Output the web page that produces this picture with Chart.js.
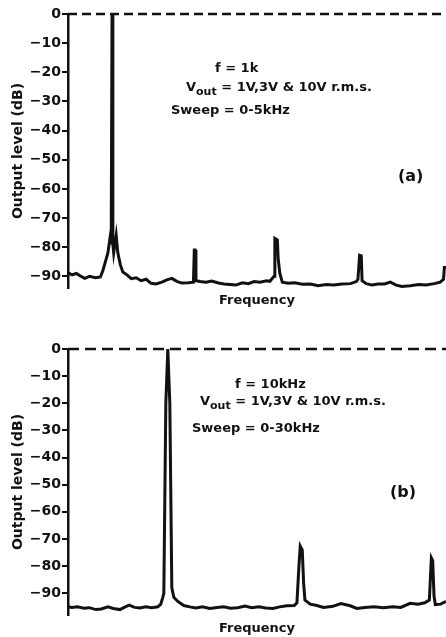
<!DOCTYPE html>
<html>
<head>
<meta charset="utf-8">
<script src="https://cdn.jsdelivr.net/npm/chart.js@4.4.0/dist/chart.umd.min.js"></script>
<style>
  html, body { margin: 0; padding: 0; background: #fff; }
  #wrap { position: relative; width: 446px; height: 637px; }
  canvas { position: absolute; left: 0; }
  #chartA { top: 0; }
  #chartB { top: 315px; }
</style>
</head>
<body>
<div id="wrap">
  <canvas id="chartA" width="446" height="315"></canvas>
  <canvas id="chartB" width="446" height="322"></canvas>
</div>
<script>
// (a) f = 1 kHz, sweep 0-5 kHz  (frequency in kHz, level in dB)
const freqA = [0.47, 0.52, 0.57, 0.61, 0.67, 0.73, 0.80, 0.86, 0.89, 0.93, 0.95, 0.98, 0.99, 1.00, 1.01, 1.02,
  1.04, 1.05, 1.07, 1.10, 1.13, 1.18, 1.23, 1.29, 1.35, 1.41, 1.47, 1.53, 1.60, 1.66, 1.72, 1.78, 1.84,
  1.92, 1.98, 1.99, 2.00, 2.01, 2.06, 2.13, 2.20, 2.28, 2.35, 2.42, 2.49, 2.57, 2.64, 2.71, 2.78, 2.86,
  2.90, 2.95, 2.96, 2.99, 3.00, 3.02, 3.05, 3.12, 3.20, 3.29, 3.39, 3.48, 3.58, 3.67, 3.77, 3.87, 3.94,
  3.96, 3.98, 4.00, 4.01, 4.06, 4.13, 4.20, 4.28, 4.35, 4.42, 4.49, 4.59, 4.69, 4.78, 4.88, 4.95, 4.99,
  5.00, 5.02];
const levelA = [-88.8, -89.5, -89, -89.7, -90.7, -90, -90.5, -90.2, -88, -84, -82, -76, -79, 0, -79, -82,
  -78, -76, -82, -86, -88.5, -89.5, -90.8, -90.5, -91.5, -91, -92.4, -92.6, -92, -91.2, -90.7, -91.7, -92.3,
  -92.2, -92, -81, -81, -91.5, -91.8, -92, -91.6, -92.3, -92.6, -92.8, -93, -92.2, -92.5, -91.8, -92, -91.5,
  -91.7, -90, -77, -77.5, -84, -89, -92, -92.4, -92.2, -92.7, -92.6, -93.2, -92.8, -93, -92.6, -92.5, -91.8,
  -91, -82.8, -83, -91.5, -92.5, -93, -92.6, -92.6, -92, -93, -93.5, -93.2, -92.8, -93, -92.5, -92, -91,
  -87, -87];
const rangeA = [0.47, 5.02];

// (b) f = 10 kHz, sweep 0-30 kHz
const freqB = [2.5, 2.8, 3.2, 3.7, 4.1, 4.6, 5.0, 5.5, 5.9, 6.4, 6.8, 7.1, 7.5, 7.9, 8.35, 8.8, 9.25, 9.47,
  9.62, 9.7, 9.85, 10.0, 10.15, 10.3, 10.45, 10.75, 11.2, 11.65, 12.1, 12.6, 13.15, 13.7, 14.2, 14.7, 15.25,
  15.8, 16.3, 16.85, 17.35, 17.9, 18.4, 18.95, 19.5, 19.7, 19.85, 19.95, 20.1, 20.2, 20.3, 20.7, 21.2, 21.7,
  22.4, 23.0, 23.7, 24.2, 24.8, 25.5, 26.2, 26.9, 27.5, 28.2, 28.8, 29.3, 29.65, 29.8, 29.9, 30.0, 30.1,
  30.5, 30.9];
const levelB = [-95, -95.2, -95, -95.5, -95.3, -96, -95.8, -95, -95.6, -96, -95, -94.4, -95.2, -95.4, -95,
  -95.3, -95, -94, -91.5, -90, -20, 0, -20, -88, -91.5, -93, -94.5, -95, -95.4, -95, -95.6, -95.2, -95,
  -95.5, -95.3, -94.7, -95.3, -95, -95.4, -95.6, -95, -94.6, -94.5, -93.5, -80, -72.6, -74, -86, -92.5,
  -94, -94.5, -95.2, -94.8, -93.8, -94.6, -95.6, -95.2, -95, -95.3, -95, -95.2, -93.7, -94, -93.5, -92.5,
  -77, -78, -91, -94.2, -94, -93];
const rangeB = [2.5, 30.9];

const refLevel = 0;
const dbTicks = [0, -10, -20, -30, -40, -50, -60, -70, -80, -90];

const ink = '#111';
const tickFont = { family: 'DejaVu Sans', size: 14, weight: 'bold' };

function toPoints(xs, ys) {
  return xs.map((x, i) => ({ x: x, y: ys[i] }));
}

// free text inside the plot (parameters, panel letter)
function notesPlugin(lines) {
  return {
    id: 'notes',
    afterDraw(chart) {
      const ctx = chart.ctx;
      ctx.save();
      ctx.fillStyle = ink;
      ctx.textBaseline = 'alphabetic';
      lines.forEach(l => {
        ctx.font = 'bold ' + (l.size || 13) + 'px "DejaVu Sans"';
        let x = l.x;
        l.parts.forEach(p => {
          if (p.sub) {
            ctx.font = 'bold 11px "DejaVu Sans"';
            ctx.fillText(p.sub, x, l.y + 4);
            x += ctx.measureText(p.sub).width;
            ctx.font = 'bold ' + (l.size || 13) + 'px "DejaVu Sans"';
          } else {
            ctx.fillText(p.t, x, l.y);
            x += ctx.measureText(p.t).width;
          }
        });
      });
      ctx.restore();
    }
  };
}

function makeChart(id, xs, ys, range, yMin, dash, padTop, xHeight, titlePadBottom, notes) {
  return new Chart(document.getElementById(id), {
    type: 'line',
    data: {
      datasets: [
        {
          data: toPoints(xs, ys),
          borderColor: ink,
          borderWidth: 3,
          pointRadius: 0,
          tension: 0,
          clip: false
        },
        {
          data: toPoints(range, [refLevel, refLevel]),
          borderColor: ink,
          borderWidth: 2.5,
          borderDash: dash,
          pointRadius: 0,
          clip: false
        }
      ]
    },
    options: {
      responsive: false,
      animation: false,
      devicePixelRatio: 1,
      layout: { padding: { top: padTop, right: 0, bottom: 0, left: 0 } },
      plugins: { legend: { display: false }, tooltip: { enabled: false } },
      scales: {
        x: {
          type: 'linear',
          min: range[0],
          max: range[1],
          ticks: { display: false },
          grid: { display: false },
          border: { display: false },
          title: {
            display: true,
            text: 'Frequency',
            color: ink,
            font: { family: 'DejaVu Sans', size: 13, weight: 'bold' },
            padding: { top: 0, bottom: titlePadBottom }
          },
          afterFit(scale) { scale.height = xHeight; }
        },
        y: {
          min: yMin,
          max: 0,
          afterFit(scale) { scale.width = 68; },
          afterBuildTicks(scale) { scale.ticks = dbTicks.map(v => ({ value: v })); },
          ticks: {
            color: ink,
            font: tickFont,
            padding: 1,
            callback: v => (v === 0 ? '0' : '\u2212' + Math.abs(v))
          },
          grid: { drawOnChartArea: false, color: ink, lineWidth: 2, tickLength: 6 },
          border: { color: ink, width: 2.5 },
          title: {
            display: true,
            text: 'Output level (dB)',
            color: ink,
            font: { family: 'DejaVu Sans', size: 14, weight: 'bold' },
            padding: { top: 10, bottom: 0 }
          }
        }
      }
    },
    plugins: [notesPlugin(notes)]
  });
}

makeChart('chartA', freqA, levelA, rangeA, -94, [9, 5], 14, 27, 7, [
  { x: 215, y: 72, parts: [{ t: 'f = 1k' }] },
  { x: 186, y: 91, parts: [{ t: 'V' }, { sub: 'out' }, { t: ' = 1V,3V & 10V r.m.s.' }] },
  { x: 171, y: 114, parts: [{ t: 'Sweep = 0-5kHz' }] },
  { x: 398, y: 181, size: 16, parts: [{ t: '(a)' }] }
]);

makeChart('chartB', freqB, levelB, rangeB, -98, [11, 6], 34, 22, 1, [
  { x: 235, y: 73, parts: [{ t: 'f = 10kHz' }] },
  { x: 200, y: 90, parts: [{ t: 'V' }, { sub: 'out' }, { t: ' = 1V,3V & 10V r.m.s.' }] },
  { x: 192, y: 117, parts: [{ t: 'Sweep = 0-30kHz' }] },
  { x: 390, y: 182, size: 16, parts: [{ t: '(b)' }] }
]);
</script>
</body>
</html>
